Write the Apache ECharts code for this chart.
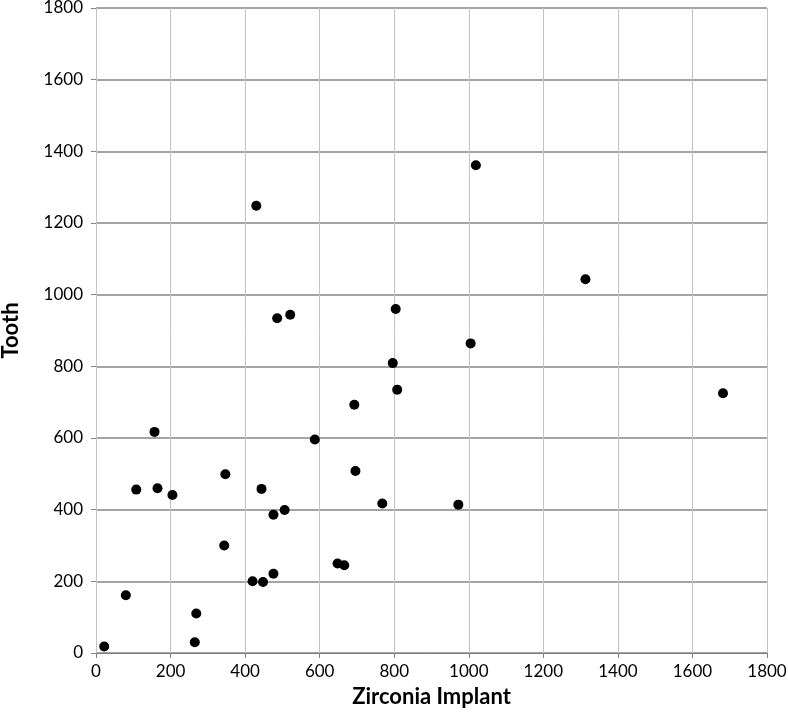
<!DOCTYPE html>
<html>
<head>
<meta charset="utf-8">
<script src="https://cdn.jsdelivr.net/npm/echarts@6/dist/echarts.min.js"></script>
<style>html,body{margin:0;padding:0;background:#fff}#c{width:788px;height:716px}</style>
</head>
<body>
<div id="c"></div>
<script>
const xValues = [22, 80, 108, 157, 165, 205, 265, 269, 344, 347, 420, 448, 444, 476, 476, 506, 587, 648, 666, 693, 696, 768, 808, 796, 804, 1005, 972, 1019, 1313, 1682, 430, 486, 521];
const yValues = [18, 161, 456, 617, 460, 441, 30, 110, 300, 499, 200, 198, 458, 221, 386, 399, 596, 250, 245, 693, 508, 417, 735, 809, 960, 864, 414, 1361, 1043, 725, 1248, 934, 944];
const xTitle = 'Zirconia Implant';
const yTitle = 'Tooth';
const axisMin = 0, axisMax = 1800, axisStep = 200;

const points = xValues.map((x, i) => [x, yValues[i]]);
const font = 'Lato, "Open Sans", sans-serif';
const plain = v => String(v);

const chart = echarts.init(document.getElementById('c'), null, {renderer: 'canvas'});
chart.setOption({
  animation: false,
  backgroundColor: '#fff',
  grid: {left: 96, right: 21, top: 8, bottom: 63, containLabel: false, outerBoundsMode: 'none'},
  xAxis: {
    type: 'value', min: axisMin, max: axisMax, interval: axisStep,
    name: xTitle, nameLocation: 'middle', nameGap: 33,
    nameTextStyle: {fontFamily: font, fontWeight: 'bold', fontSize: 22, color: '#000'},
    axisLine: {show: true, lineStyle: {color: '#7f7f7f', width: 1}},
    axisTick: {show: true, length: 5, lineStyle: {color: '#7f7f7f'}},
    axisLabel: {fontFamily: font, fontSize: 17, color: '#000', margin: 10, formatter: plain},
    splitLine: {show: true, lineStyle: {color: '#c4c4c4', width: 1}}
  },
  yAxis: {
    type: 'value', min: axisMin, max: axisMax, interval: axisStep,
    name: yTitle, nameLocation: 'middle', nameGap: 74, nameRotate: 90,
    nameTextStyle: {fontFamily: font, fontWeight: 'bold', fontSize: 22, color: '#000'},
    axisLine: {show: true, lineStyle: {color: '#c4c4c4', width: 1}},
    axisTick: {show: true, length: 5, lineStyle: {color: '#868686'}},
    axisLabel: {fontFamily: font, fontSize: 17, color: '#000', margin: 13, formatter: plain},
    splitLine: {show: true, lineStyle: {color: '#868686', width: 1.5}}
  },
  series: [{
    type: 'scatter',
    data: points,
    symbol: 'circle',
    symbolSize: 10,
    itemStyle: {color: '#000', opacity: 1}
  }]
});
</script>
</body>
</html>
